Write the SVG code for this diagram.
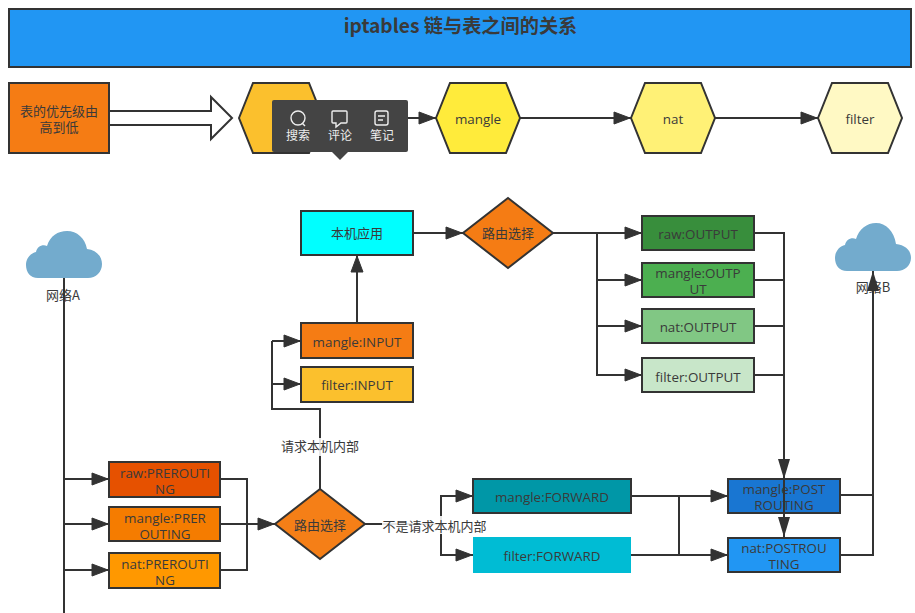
<svg xmlns="http://www.w3.org/2000/svg" width="915" height="613" viewBox="0 0 915 613">
<style>
text{font-family:"Noto Sans CJK SC","Liberation Sans",sans-serif;font-size:13px;fill:#3a3a3a;text-anchor:middle}
.t{font-family:"Open Sans","Noto Sans CJK SC",sans-serif;font-size:13.4px}
.n{stroke:#333;stroke-width:2}
.c{fill:none;stroke:#333;stroke-width:2}
.a{marker-end:url(#ah)}
.w{fill:#eee;font-size:12px}
.i{fill:none;stroke:#eee;stroke-width:1.4}
.b{fill:#fff;opacity:.88}
</style>
<defs><marker id="ah" markerUnits="userSpaceOnUse" markerWidth="18" markerHeight="14" refX="17" refY="6" orient="auto" overflow="visible"><path d="M0 0L16 6L0 12Z" fill="#333" stroke="#333"/></marker></defs>
<rect width="915" height="613" fill="#fff"/>
<g id="connectors">
<path class="n" d="M109 111H211V97L232 118L211 139V125H109Z" fill="#fff"/>
<path class="c a" d="M323 118H436"/>
<path class="c a" d="M520 118H631"/>
<path class="c a" d="M715 118H818"/>
<path class="c" d="M64 278V613"/>
<path class="c a" d="M64 479H109"/>
<path class="c a" d="M64 524H109"/>
<path class="c a" d="M64 570H109"/>
<path class="c" d="M220 479H247V570H220"/>
<path class="c a" d="M220 524H275"/>
<path class="c" d="M320 489V409H272V341"/>
<path class="c a" d="M272 341H301"/>
<path class="c a" d="M272 384H301"/>
<path class="c a" d="M357 323V255"/>
<path class="c a" d="M413 233H463"/>
<path class="c a" d="M553 233H642"/>
<path class="c a" d="M597 233V280H642"/>
<path class="c a" d="M597 280V326H642"/>
<path class="c a" d="M597 326V375H642"/>
<path class="c" d="M754 233H784V479"/>
<path class="c" d="M754 280H784M754 326H784M754 375H784"/>
<path class="c" d="M365 524H441"/>
<path class="c a" d="M441 524V496H473"/>
<path class="c a" d="M441 524V555H473"/>
<path class="c a" d="M631 496H728"/>
<path class="c a" d="M631 555H728"/>
<path class="c" d="M679 496V555"/>
<path class="c" d="M840 495H873M840 555H873V297"/>
</g>
<g id="title"><rect class="n" x="9" y="9" width="902" height="58" fill="#2196f3"/><text x="460.500" y="33" style="font-size:19.2px;font-weight:700">iptables 链与表之间的关系</text></g>
<g id="priority"><rect class="n" x="9" y="83" width="100" height="70" fill="#f57c14"/><text x="59" y="116">表的优先级由</text><text x="59" y="132">高到低</text></g>
<g id="hex-raw"><path class="n" d="M239 118L253 83H309L323 118L309 153H253Z" fill="#fbc02d"/></g>
<g id="hex-mangle"><path class="n" d="M436 118L450 83H506L520 118L506 153H450Z" fill="#ffeb3b"/><text class="t" x="478" y="124">mangle</text></g>
<g id="hex-nat"><path class="n" d="M631 118L645 83H701L715 118L701 153H645Z" fill="#fff176"/><text class="t" x="673" y="124">nat</text></g>
<g id="hex-filter"><path class="n" d="M818 118L832 83H888L902 118L888 153H832Z" fill="#fff9c4"/><text class="t" x="860" y="124">filter</text></g>
<g id="popup"><rect x="272" y="100" width="136" height="52" rx="2" fill="#444"/><path d="M332 152H348L340 160Z" fill="#444"/>
<circle class="i" cx="298" cy="118" r="7"/><path class="i" d="M302 123L305 126"/>
<path class="i" d="M333 111H346Q347 111 347 112V122Q347 123 346 123H341L336 127V123H333Q332 123 332 122V112Q332 111 333 111Z"/>
<rect class="i" x="375" y="111" width="13" height="14" rx="2"/><path class="i" d="M378 116H385M378 120H383"/>
<text class="w" x="298" y="140">搜索</text><text class="w" x="340" y="140">评论</text><text class="w" x="382" y="140">笔记</text></g>
<g id="cloud-a"><path d="M38 278C30 278 26 272 26 265C26 258 31 253 36 252C37 247 42 244 47 246C50 236 58 231 67 231C77 231 85 238 87 249C96 250 102 256 102 264C102 272 96 278 88 278Z" fill="#73abcd"/><text x="63" y="300">网络A</text></g>
<g id="cloud-b"><path d="M847 271C839 271 835 265 835 258C835 251 840 246 845 245C846 240 851 237 856 239C859 229 867 223 876 223C886 223 894 231 896 244C905 245 911 250 911 258C911 265 905 271 897 271Z" fill="#73abcd"/><text x="873" y="292">网络B</text></g>
<path d="M873 271V300" class="c"/><path d="M873 271L867 291H879Z" fill="#333"/>
<g id="app"><rect class="n" x="301" y="211" width="112" height="44" fill="#0ff"/><text x="357" y="238">本机应用</text></g>
<g id="route-top"><path class="n" d="M508 198L553 233L508 268L463 233Z" fill="#f57c14"/><text x="508" y="238">路由选择</text></g>
<g id="raw-output"><rect class="n" x="642" y="216" width="112" height="34" fill="#388e3c"/><text class="t" x="698" y="239">raw:OUTPUT</text></g>
<g id="mangle-output"><rect class="n" x="642" y="263" width="112" height="34" fill="#4caf50"/><text class="t" x="698" y="278">mangle:OUTP</text><text class="t" x="698" y="294">UT</text></g>
<g id="nat-output"><rect class="n" x="642" y="309" width="112" height="34" fill="#81c784"/><text class="t" x="698" y="332">nat:OUTPUT</text></g>
<g id="filter-output"><rect class="n" x="642" y="358" width="112" height="34" fill="#c8e6c9"/><text class="t" x="698" y="382">filter:OUTPUT</text></g>
<g id="mangle-input"><rect class="n" x="301" y="323" width="112" height="35" fill="#f57c14"/><text class="t" x="357" y="347">mangle:INPUT</text></g>
<g id="filter-input"><rect class="n" x="301" y="367" width="112" height="35" fill="#fbc02d"/><text class="t" x="357" y="390">filter:INPUT</text></g>
<g id="raw-pre"><rect class="n" x="109" y="462" width="111" height="35" fill="#e65100"/><text class="t" x="165" y="478">raw:PREROUTI</text><text class="t" x="165" y="494">NG</text></g>
<g id="mangle-pre"><rect class="n" x="109" y="507" width="111" height="34" fill="#f57c00"/><text class="t" x="165" y="523">mangle:PRER</text><text class="t" x="165" y="539">OUTING</text></g>
<g id="nat-pre"><rect class="n" x="109" y="553" width="111" height="35" fill="#ff9800"/><text class="t" x="165" y="569">nat:PREROUTI</text><text class="t" x="165" y="585">NG</text></g>
<g id="route-bottom"><path class="n" d="M320 489L365 524L320 559L275 524Z" fill="#f57f17"/><text x="320" y="530">路由选择</text></g>
<g id="mangle-forward"><rect class="n" x="473" y="479" width="158" height="34" fill="#0097a7"/><text class="t" x="552" y="502">mangle:FORWARD</text></g>
<g id="filter-forward"><rect x="473" y="537" width="158" height="36" fill="#00bcd4"/><text class="t" x="552" y="561">filter:FORWARD</text></g>
<g id="mangle-post"><rect class="n" x="728" y="479" width="112" height="34" fill="#1976d2"/><text class="t" x="784" y="494">mangle:POST</text><text class="t" x="784" y="510">ROUTING</text></g>
<g id="nat-post"><rect class="n" x="728" y="538" width="112" height="34" fill="#2196f3"/><text class="t" x="784" y="553">nat:POSTROU</text><text class="t" x="784" y="569">TING</text></g>
<path class="c" d="M784 460V538"/><path d="M784 479L778 459H790ZM784 537L778 517H790Z" fill="#333"/>
<g id="labels"><rect class="b" x="281" y="438" width="78" height="18"/><rect class="b" x="382" y="516" width="105" height="18"/><text x="320" y="451">请求本机内部</text><text x="434.500" y="531">不是请求本机内部</text></g>
</svg>
